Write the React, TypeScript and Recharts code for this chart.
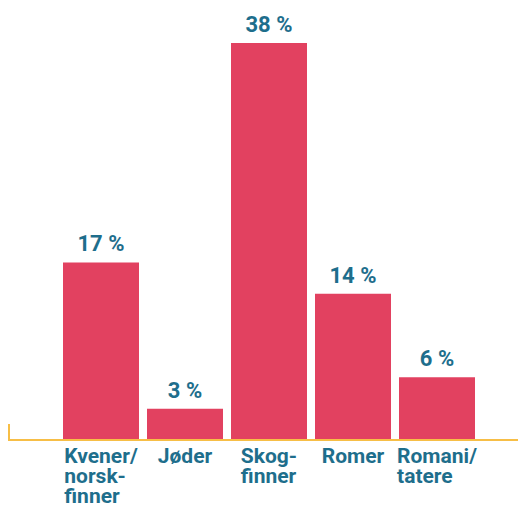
import { BarChart, Bar, XAxis, YAxis, LabelList, Customized } from "recharts";

// kategorier og andeler (prosent)
const categories = ["Kvener/\nnorsk-\nfinner", "Jøder", "Skog-\nfinner", "Romer", "Romani/\ntatere"];
const shares = [17, 3, 38, 14, 6];

const data = categories.map((name, i) => ({ name, value: shares[i] }));

const BAR = "#E24160";
const TEXT = "#1E6E8C";
const AXIS = "#F7BE46";
const FONT = "Roboto, 'Noto Sans', sans-serif";
const TICK_SIZE = 21;

let ctx: CanvasRenderingContext2D | null = null;
function measure(s: string, font: string) {
  if (!ctx) ctx = document.createElement("canvas").getContext("2d");
  if (!ctx) return s.length * 10;
  ctx.font = font;
  return ctx.measureText(s).width;
}

// tick: linjene venstrejustert, blokken sentrert under søylen
function CategoryTick({ x, y, payload }: any) {
  const lines = String(payload.value).split("\n");
  const w = Math.max(...lines.map((l) => measure(l, `bold ${TICK_SIZE}px Roboto`)));
  return (
    <text
      x={x - w / 2}
      y={y}
      fill={TEXT}
      fontFamily={FONT}
      fontWeight={700}
      fontSize={TICK_SIZE}
      textAnchor="start"
    >
      {lines.map((l, i) => (
        <tspan key={i} x={x - w / 2} dy={i === 0 ? 20.5 : 20}>
          {l}
        </tspan>
      ))}
    </text>
  );
}

export default function App() {
  return (
    <div style={{ position: "absolute", left: 0, top: 0, background: "#fff" }}>
      <BarChart
        width={518}
        height={505}
        data={data}
        margin={{ top: 43, right: 0, left: 8, bottom: 0 }}
      >
        <XAxis
          dataKey="name"
          height={65}
          padding={{ left: 51, right: 39 }}
          axisLine={{ stroke: AXIS, strokeWidth: 2 }}
          tickLine={false}
          tickSize={0}
          interval={0}
          tick={<CategoryTick />}
        />
        <YAxis hide domain={[0, 38]} />
        <Customized
          component={() => (
            <line x1={9} x2={9} y1={424} y2={441} stroke={AXIS} strokeWidth={2} />
          )}
        />
        <Bar dataKey="value" fill={BAR} barSize={76} isAnimationActive={false}>
          <LabelList
            dataKey="value"
            position="top"
            offset={11}
            formatter={(v: any) => `${v} %`}
            fill={TEXT}
            fontFamily={FONT}
            fontWeight={700}
            fontSize={22}
          />
        </Bar>
      </BarChart>
    </div>
  );
}
